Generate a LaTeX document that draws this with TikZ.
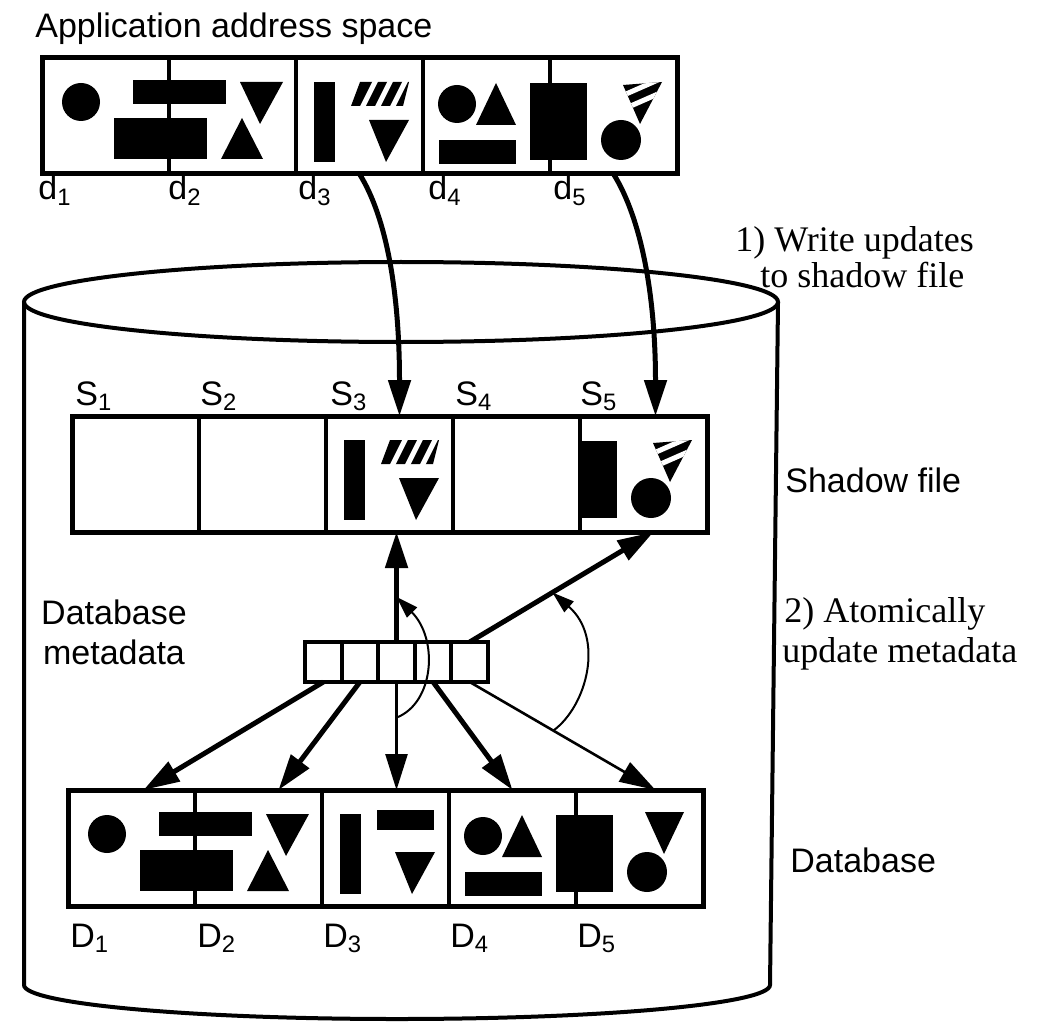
\documentclass[tikz,border=0pt]{standalone}
\usepackage{fontspec}
\setmainfont{Liberation Serif}
\setsansfont{Liberation Sans}
\usetikzlibrary{arrows.meta,calc}

\tikzset{
  cell/.style={draw, line width=2pt, minimum width=63.5pt, minimum height=58pt, inner sep=0pt, outer sep=0pt},
  mcell/.style={draw, line width=2pt, minimum width=18.3pt, minimum height=20pt, inner sep=0pt, outer sep=0pt},
  lbl/.style={font=\sffamily\fontsize{17}{20}\selectfont, inner sep=0pt, anchor=base west},
  note/.style={font=\fontsize{18}{21}\selectfont, inner sep=0pt, anchor=base west},
  big/.style={line width=2.5pt, -{Triangle[length=18pt,width=11pt]}},
  old/.style={line width=1.3pt, -{Triangle[length=18pt,width=11pt]}},
  turn/.style={line width=1pt, -{Triangle[length=11pt,width=7pt]}}
}

% page contents, in pixels from the top left corner of a strip
\newcommand{\keptshapes}{%
  \fill (39,44) circle [radius=19];
  \fill (91,22) rectangle (184,46);
  \fill (72,60) rectangle (165,101);
  \fill (198,24) -- (241,24) -- (218,66) -- cycle;
  \fill (179,101) -- (221,101) -- (200,60) -- cycle;
  \fill (415,46) circle [radius=19];
  \fill (434,67) -- (474,67) -- (454,25) -- cycle;
  \fill (397,82) rectangle (474,106);
  \fill (488,25) rectangle (545,102);
}
\newcommand{\sharedshapes}{%
  \fill (272,24) rectangle (293,104);
  \fill (327,62) -- (367,62) -- (344,104) -- cycle;
  \fill (579,82) circle [radius=20];
}
\newcommand{\newshapes}{% hatched updates
  \fill (309,48) -- (318,24) -- (367,24) -- (361,48) -- cycle;
  \foreach \s in {320,335,350} \draw[white, line width=2.5pt] (\s,50) -- ++(14,-28);
  \begin{scope}
    \clip (581,27) -- (620,24) -- (598,66) -- cycle;
    \fill (570,20) rectangle (630,70);
    \foreach \s in {40,54} \draw[white, line width=2.5pt] (575,\s) -- ++(50,-22);
  \end{scope}
}
\newcommand{\oldshapes}{%
  \fill (309,20) rectangle (366,40);
  \fill (577,22) -- (616,22) -- (596,64) -- cycle;
}

\begin{document}
\begin{tikzpicture}[x=0.5pt,y=-0.5pt]
  \useasboundingbox (0,0) rectangle (1047,1026);

  % disk
  \draw[line width=2pt] (401,302) ellipse [x radius=377, y radius=40];
  \draw[line width=2pt] (24,302) -- (24,985) arc [start angle=180, end angle=0, x radius=373, y radius=34] -- (778,302);

  % application address space
  \node[lbl] (title) at (35,38) {Application address space};
  \foreach \i in {1,...,5} \node[cell] (d\i) at ({42+127*(\i-0.5)},116) {};
  \draw[line width=2.5pt] (d1.north west) rectangle (d5.south east);
  \begin{scope}[shift={(42,58)}]
    \keptshapes
    \sharedshapes
    \newshapes
  \end{scope}
  \foreach \i/\x in {1/38,2/168,3/298,4/428,5/553} \node[lbl] (dn\i) at (\x,200) {d\textsubscript{\i}};

  % shadow file
  \foreach \i in {1,...,5} \node[cell] (S\i) at ({72+127*(\i-0.5)},474) {};
  \draw[line width=2.5pt] (S1.north west) rectangle (S5.south east);
  \begin{scope}[shift={(72,416)}]
    \sharedshapes
    \newshapes
    \fill (506,25) rectangle (545,102);
  \end{scope}
  \foreach \i/\x in {1/75,2/200,3/330,4/455,5/580} \node[lbl] (sn\i) at (\x,405) {S\textsubscript{\i}};

  % database
  \foreach \i in {1,...,5} \node[cell] (D\i) at ({68+127*(\i-0.5)},848) {};
  \draw[line width=2.5pt] (D1.north west) rectangle (D5.south east);
  \begin{scope}[shift={(68,790)}]
    \keptshapes
    \sharedshapes
    \oldshapes
  \end{scope}
  \foreach \i/\x in {1/70,2/197,3/323,4/450,5/577} \node[lbl] (Dn\i) at (\x,947) {D\textsubscript{\i}};

  % metadata
  \foreach \i in {1,...,5} \node[mcell] (m\i) at ({305+36.6*(\i-0.5)},662) {};
  \node[lbl, align=center, anchor=center] (meta) at (114,632) {Database\\metadata};

  % writes
  \draw[big] (d3.south) .. controls +(28,45) and +(0,-120) .. ([xshift=5pt]S3.north);
  \draw[big] (d5.south) .. controls +(28,45) and +(0,-120) .. ([xshift=6pt]S5.north);

  % pointers
  \draw[big] (m3.north) -- (m3.north |- S3.south);
  \draw[big] (m5.north) -- ([xshift=5pt]S5.south);
  \draw[big] (m1.south) -- ([xshift=6pt]D1.north);
  \draw[big] (m2.south) -- ([xshift=10pt]D2.north);
  \draw[old] (m3.south) -- (m3.south |- D3.north);
  \draw[big] (m4.south) -- (D4.north);
  \draw[old] (m5.south) -- ([xshift=8pt]D5.north);

  % swaps
  \coordinate (r3) at ($(m3.south)!0.33!(m3.south |- D3.north)$);
  \coordinate (a3) at ($(m3.north)!0.41!(m3.north |- S3.south)$);
  \draw[turn] (r3) .. controls +(38,-15) and +(42,42) .. (a3);
  \coordinate (r5) at ($(m5.south)!0.45!([xshift=8pt]D5.north)$);
  \coordinate (a5) at ($(m5.north)!0.45!([xshift=5pt]S5.south)$);
  \draw[turn] (r5) .. controls +(34,-25) and +(52,45) .. (a5);

  % steps
  \node[note] (step1) at (735,252) {1) Write updates};
  \node[note] (step1b) at (760,287) {to shadow file};
  \node[lbl] (shadow) at (785,492) {Shadow file};
  \node[note] (step2) at (784,622) {2) Atomically};
  \node[note] (step2b) at (782,662) {update metadata};
  \node[lbl] (db) at (790,872) {Database};
\end{tikzpicture}
\end{document}
